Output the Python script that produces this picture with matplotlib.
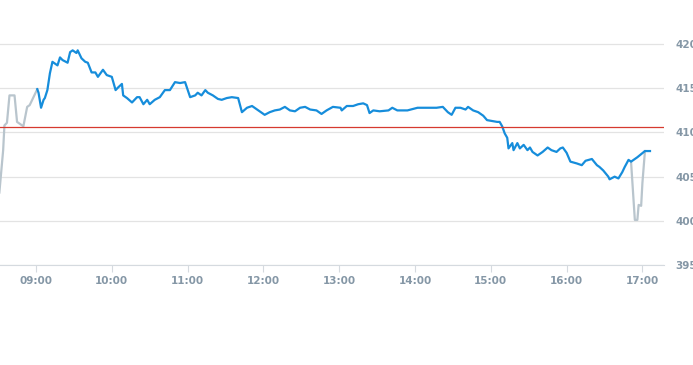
import numpy as np
import matplotlib.pyplot as plt
from matplotlib.ticker import FuncFormatter

# pre-market (grey) ticks
PRE_TIME = ["08:31", "08:34", "08:35", "08:37", "08:39", "08:43", "08:45", "08:50",
            "08:53", "08:55", "08:58", "09:01"]
PRE_PRICE = [403.2, 408.0, 410.8, 411.1, 414.2, 414.2, 411.2, 410.7,
             412.9, 413.1, 414.0, 414.9]

# closing auction dip (grey)
POST_TIME = ["16:51", "16:54", "16:56", "16:57", "16:59", "17:00", "17:02"]
POST_PRICE = [406.7, 400.1, 400.1, 401.8, 401.7, 404.3, 407.9]

# regular session (blue)
TIME = ["09:01", "09:02", "09:04", "09:06", "09:07", "09:09", "09:11", "09:13", "09:17", "09:19",
        "09:21", "09:25", "09:27", "09:29", "09:32", "09:33", "09:36", "09:39", "09:41", "09:44",
        "09:47", "09:49", "09:51", "09:53", "09:56", "10:00", "10:03", "10:05", "10:08", "10:09",
        "10:12", "10:16", "10:20", "10:22", "10:25", "10:28", "10:30", "10:34", "10:38", "10:42",
        "10:46", "10:50", "10:54", "10:58", "11:02", "11:06", "11:08", "11:11", "11:14", "11:16",
        "11:20", "11:24", "11:27", "11:31", "11:35", "11:40", "11:43", "11:47", "11:51", "11:56",
        "12:01", "12:05", "12:09", "12:13", "12:17", "12:21", "12:25", "12:29", "12:33", "12:37",
        "12:42", "12:46", "12:50", "12:55", "13:01", "13:02", "13:06", "13:11", "13:15", "13:19",
        "13:22", "13:24", "13:27", "13:32", "13:39", "13:42", "13:46", "13:54", "14:02", "14:10",
        "14:17", "14:22", "14:26", "14:29", "14:32", "14:36", "14:40", "14:42", "14:46", "14:50",
        "14:54", "14:57", "15:01", "15:05", "15:07", "15:09", "15:11", "15:13", "15:14", "15:17",
        "15:18", "15:21", "15:23", "15:26", "15:29", "15:31", "15:33", "15:37", "15:41", "15:45",
        "15:48", "15:52", "15:55", "15:57", "16:00", "16:03", "16:08", "16:12", "16:15", "16:20",
        "16:24", "16:26", "16:29", "16:33", "16:34", "16:38", "16:41", "16:44", "16:46", "16:49",
        "16:51", "16:56", "17:02", "17:06"]
PRICE = [414.9, 414.5, 412.8, 413.7, 413.9, 414.8, 416.7, 418.0, 417.6, 418.5,
         418.2, 417.9, 419.1, 419.3, 419.0, 419.3, 418.4, 418.0, 417.9, 416.8,
         416.8, 416.3, 416.7, 417.1, 416.5, 416.3, 414.8, 415.1, 415.5, 414.2,
         413.9, 413.4, 414.0, 414.0, 413.2, 413.7, 413.2, 413.7, 414.0, 414.8,
         414.8, 415.7, 415.6, 415.7, 414.0, 414.2, 414.5, 414.2, 414.8, 414.5,
         414.2, 413.8, 413.7, 413.9, 414.0, 413.9, 412.3, 412.8, 413.0, 412.5,
         412.0, 412.3, 412.5, 412.6, 412.9, 412.5, 412.4, 412.8, 412.9, 412.6,
         412.5, 412.1, 412.5, 412.9, 412.8, 412.5, 413.0, 413.0, 413.2, 413.3,
         413.1, 412.2, 412.5, 412.4, 412.5, 412.8, 412.5, 412.5, 412.8, 412.8,
         412.8, 412.9, 412.3, 412.0, 412.8, 412.8, 412.6, 412.9, 412.5, 412.3,
         411.9, 411.4, 411.3, 411.2, 411.2, 410.7, 409.9, 409.4, 408.2, 408.8,
         408.0, 408.8, 408.2, 408.6, 408.0, 408.3, 407.8, 407.4, 407.8, 408.3,
         408.0, 407.8, 408.2, 408.3, 407.7, 406.7, 406.5, 406.3, 406.8, 407.0,
         406.3, 406.1, 405.7, 405.0, 404.7, 405.0, 404.8, 405.5, 406.1, 406.9,
         406.7, 407.2, 407.9, 407.9]

PREV_CLOSE = 410.6
Y_TICKS = [395, 400, 405, 410, 415, 420]
X_TICKS = ["09:00", "10:00", "11:00", "12:00", "13:00", "14:00", "15:00", "16:00", "17:00"]


def hours(labels):
    return np.array([int(s[:2]) + int(s[3:]) / 60 for s in labels])


fig = plt.figure(figsize=(6.93, 3.65), dpi=100)
ax = fig.add_axes([0, 0.274, 0.958, 0.726])

grey = "#b9c5cd"
ax.plot(hours(PRE_TIME), PRE_PRICE, color=grey, lw=1.6, zorder=2)
ax.plot(hours(POST_TIME), POST_PRICE, color=grey, lw=1.6, zorder=2)
ax.plot(hours(TIME), PRICE, color="#168ddb", lw=1.6, zorder=3)
ax.axhline(PREV_CLOSE, color="#d63a2f", lw=0.9, zorder=4)

ax.set_xlim(8 + 31.5 / 60, 17 + 17 / 60)
ax.set_ylim(395, 425)
ax.set_xticks(hours(X_TICKS))
ax.xaxis.set_major_formatter(FuncFormatter(lambda v, p: f"{int(round(v)):02d}:00"))
ax.set_yticks(Y_TICKS)
ax.yaxis.tick_right()
ax.grid(axis="y", color="#e3e3e3", lw=0.9)
ax.set_axisbelow(True)

for s in ["top", "left", "right"]:
    ax.spines[s].set_visible(False)
ax.spines["bottom"].set_color("#d5dadf")

lab_col = "#8597a6"
ax.tick_params(axis="x", length=5, color="#d5dadf", labelcolor=lab_col, labelsize=7.5, pad=3)
ax.tick_params(axis="y", length=0, labelsize=7.5, labelcolor=lab_col, pad=8.5)
for lab in ax.get_xticklabels() + ax.get_yticklabels():
    lab.set_fontweight("bold")

fig.savefig("out.png", dpi=100)
